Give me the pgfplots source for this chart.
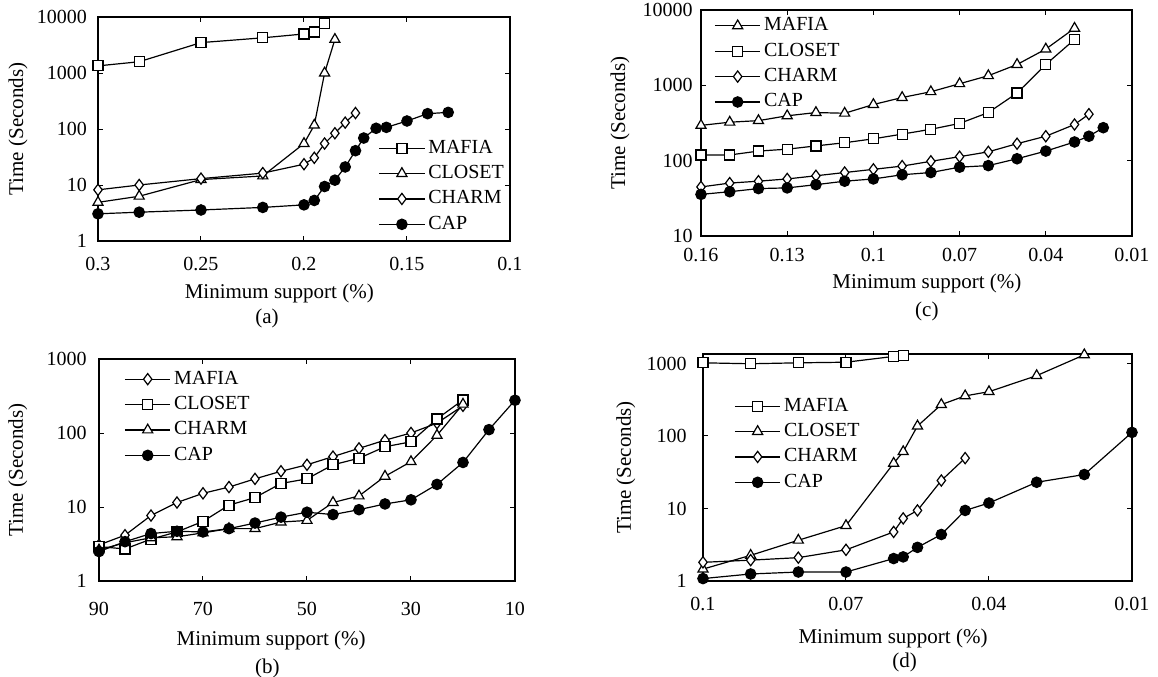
\documentclass[border=0pt]{standalone}
\usepackage{pgfplots}
\pgfplotsset{compat=1.18}
\usepackage{fontspec}
\setmainfont{Liberation Serif}
\pgfkeys{/pgf/number format/assume math mode=true}
\tikzset{
  sq/.style={mark=square*, mark options={fill=white, solid}, mark size=2.5pt},
  tri/.style={mark=triangle*, mark options={fill=white, solid}, mark size=2.9pt},
  dia/.style={mark=diamond*, mark options={fill=white, solid}, mark size=2.8pt},
  cir/.style={mark=*, mark options={fill=black, solid}, mark size=2.6pt},
}
\pgfplotsset{
  legend image code/.code={\draw[mark repeat=2,mark phase=2,#1] plot coordinates {(0cm,0cm) (0.4cm,0cm) (0.8cm,0cm)};},
  every axis/.append style={
    scale only axis, anchor=south west, clip=false,
    axis line style={line width=0.8pt},
    tick style={black, line width=0.5pt}, major tick length=2.5pt,
    tick align=inside,
    ylabel={Time (Seconds)}, xlabel={Minimum support (\%)},
    legend cell align=left,
  },
  every tick label/.append style={font=\fontsize{10}{12}\selectfont},
  every axis label/.append style={font=\fontsize{10.5}{12}\selectfont},
  every axis legend/.append style={draw=none, fill=none, font=\fontsize{10}{12}\selectfont, inner sep=0pt,
      nodes={text height=7pt, text depth=2pt, inner sep=1.5pt}, row sep=0.7pt},
  every axis plot/.append style={line width=0.6pt, black},
}
\begin{document}
\begin{tikzpicture}
\useasboundingbox (0,0) rectangle (579pt,338pt);

% (a)
\begin{axis}[at={(49pt,217.5pt)}, width=206pt, height=112pt,
  ymode=log, x dir=reverse, yminorticks=false,
  xmin=0.1, xmax=0.3, ymin=1, ymax=10000,
  xtick={0.3,0.25,0.2,0.15,0.1}, xticklabels={0.3,0.25,0.2,0.15,0.1},
  ytick={1,10,100,1000,10000}, yticklabels={1,10,100,1000,10000},
  xticklabel style={yshift=-4.5pt}, yticklabel style={xshift=-2pt},
  ylabel style={at={(axis description cs:-0.194,0.5)}, anchor=center},
  xlabel style={at={(axis description cs:0.44,-0.232)}, anchor=center},
  legend style={at={(axis description cs:0.68,0.47)}, anchor=north west}]
\addplot[sq] coordinates {(0.3,1340) (0.28,1590) (0.25,3490) (0.22,4250) (0.2,4980) (0.195,5390) (0.19,7690)};
\addplot[tri] coordinates {(0.3,4.9) (0.28,6.3) (0.25,12.5) (0.22,14.5) (0.2,55) (0.195,117) (0.19,1000) (0.185,3980)};
\addplot[dia] coordinates {(0.3,8.2) (0.28,10) (0.25,13) (0.22,16.3) (0.2,23.5) (0.195,30.6) (0.19,55) (0.185,84) (0.18,130) (0.175,193)};
\addplot[cir] coordinates {(0.3,3.06) (0.28,3.27) (0.25,3.58) (0.22,3.98) (0.2,4.42) (0.195,5.3) (0.19,9.4) (0.185,12.2) (0.18,21) (0.175,41) (0.171,69) (0.165,103) (0.16,107) (0.15,139) (0.14,188) (0.13,198)};
\legend{MAFIA,CLOSET,CHARM,CAP}
\node[font=\fontsize{10.5}{12}\selectfont] at (axis description cs:0.41,-0.344) {(a)};
\end{axis}

% (c)
\begin{axis}[at={(350.5pt,220pt)}, width=215.5pt, height=113pt,
  ymode=log, x dir=reverse, yminorticks=false,
  xmin=0.01, xmax=0.16, ymin=10, ymax=10000,
  xtick={0.16,0.13,0.1,0.07,0.04,0.01}, xticklabels={0.16,0.13,0.1,0.07,0.04,0.01},
  ytick={10,100,1000,10000}, yticklabels={10,100,1000,10000},
  xticklabel style={yshift=-2.5pt}, yticklabel style={xshift=-0.7pt},
  ylabel style={at={(axis description cs:-0.188,0.5)}, anchor=center},
  xlabel style={at={(axis description cs:0.524,-0.212)}, anchor=center},
  legend style={at={(axis description cs:0.03,0.985)}, anchor=north west}]
\addplot[tri] coordinates {(0.16,294) (0.15,324) (0.14,340) (0.13,394) (0.12,435) (0.11,426) (0.10,556) (0.09,689) (0.08,822) (0.07,1050) (0.06,1342) (0.05,1890) (0.04,3027) (0.03,5720)};
\addplot[sq] coordinates {(0.16,119) (0.15,119) (0.14,134) (0.13,142) (0.12,157) (0.11,173) (0.10,195) (0.09,225) (0.08,261) (0.07,312) (0.06,435) (0.05,790) (0.04,1890) (0.03,4060)};
\addplot[dia] coordinates {(0.16,44.8) (0.15,50.4) (0.14,53.4) (0.13,57.2) (0.12,63) (0.11,69.6) (0.10,76.7) (0.09,84.7) (0.08,98) (0.07,113) (0.06,131) (0.05,168) (0.04,211) (0.03,302) (0.025,414)};
\addplot[cir] coordinates {(0.16,35.7) (0.15,38.7) (0.14,42.6) (0.13,43.5) (0.12,48) (0.11,53.4) (0.10,57.2) (0.09,65) (0.08,69.6) (0.07,82) (0.06,86) (0.05,106) (0.04,134) (0.03,177) (0.025,211) (0.02,274)};
\legend{MAFIA,CLOSET,CHARM,CAP}
\node[font=\fontsize{10.5}{12}\selectfont] at (axis description cs:0.524,-0.332) {(c)};
\end{axis}

% (b)
\begin{axis}[at={(49.5pt,47.5pt)}, width=208pt, height=111pt,
  ymode=log, x dir=reverse, yminorticks=false,
  xmin=10, xmax=90, ymin=1, ymax=1000,
  xtick={90,70,50,30,10}, xticklabels={90,70,50,30,10},
  ytick={1,10,100,1000}, yticklabels={1,10,100,1000},
  xticklabel style={yshift=-7pt}, yticklabel style={xshift=-2.7pt},
  ylabel style={at={(axis description cs:-0.195,0.5)}, anchor=center},
  xlabel style={at={(axis description cs:0.414,-0.266)}, anchor=center},
  legend style={at={(axis description cs:0.06,0.965)}, anchor=north west}]
\addplot[dia] coordinates {(90,3.07) (85,4.16) (80,7.67) (75,11.5) (70,15.3) (65,18.6) (60,24) (55,30.4) (50,37.2) (45,48) (40,62) (35,80) (30,100) (25,136) (20,233)};
\addplot[sq] coordinates {(90,2.92) (85,2.71) (80,3.68) (75,4.61) (70,6.39) (65,10.6) (60,13.4) (55,20.8) (50,24) (45,37.2) (40,45.6) (35,65.2) (30,76) (25,155) (20,280)};
\addplot[tri] coordinates {(90,2.63) (85,3.29) (80,3.84) (75,3.96) (70,4.47) (65,5.1) (60,5.1) (55,6.26) (50,6.58) (45,11.5) (40,14.1) (35,26) (30,41) (25,93) (20,245)};
\addplot[cir] coordinates {(90,2.5) (85,3.4) (80,4.38) (75,4.7) (70,4.6) (65,5.1) (60,6.07) (55,7.3) (50,8.5) (45,7.9) (40,9.2) (35,11) (30,12.5) (25,20.2) (20,40) (15,111) (10,277)};
\legend{MAFIA,CLOSET,CHARM,CAP}
\node[font=\fontsize{10.5}{12}\selectfont] at (axis description cs:0.405,-0.392) {(b)};
\end{axis}

% (d)
\begin{axis}[at={(351.5pt,47.5pt)}, width=214.5pt, height=113.5pt,
  ymode=log, x dir=reverse, yminorticks=false,
  xmin=0.01, xmax=0.1, ymin=1, ymax=1350,
  xtick={0.1,0.07,0.04,0.01}, xticklabels={0.1,0.07,0.04,0.01},
  ytick={1,10,100,1000}, yticklabels={1,10,100,1000},
  xticklabel style={yshift=-4.5pt}, yticklabel style={xshift=-4.7pt},
  ylabel style={at={(axis description cs:-0.18,0.5)}, anchor=center},
  xlabel style={at={(axis description cs:0.443,-0.251)}, anchor=center},
  legend style={at={(axis description cs:0.072,0.825)}, anchor=north west}]
\addplot[sq] coordinates {(0.1,1020) (0.09,990) (0.08,1020) (0.07,1040) (0.06,1250) (0.058,1290)};
\addplot[tri] coordinates {(0.1,1.46) (0.09,2.26) (0.08,3.65) (0.07,5.8) (0.06,42) (0.058,60.7) (0.055,137) (0.05,271) (0.045,357) (0.04,408) (0.03,679) (0.02,1316)};
\addplot[dia] coordinates {(0.1,1.81) (0.09,1.94) (0.08,2.1) (0.07,2.69) (0.06,4.75) (0.058,7.3) (0.055,9.4) (0.05,24.3) (0.045,49.5)};
\addplot[cir] coordinates {(0.1,1.08) (0.09,1.25) (0.08,1.33) (0.07,1.33) (0.06,2.04) (0.058,2.15) (0.055,2.91) (0.05,4.38) (0.045,9.4) (0.04,11.9) (0.03,23) (0.02,29.4) (0.01,112)};
\legend{MAFIA,CLOSET,CHARM,CAP}
\node[font=\fontsize{10.5}{12}\selectfont] at (axis description cs:0.47,-0.357) {(d)};
\end{axis}
\end{tikzpicture}
\end{document}
